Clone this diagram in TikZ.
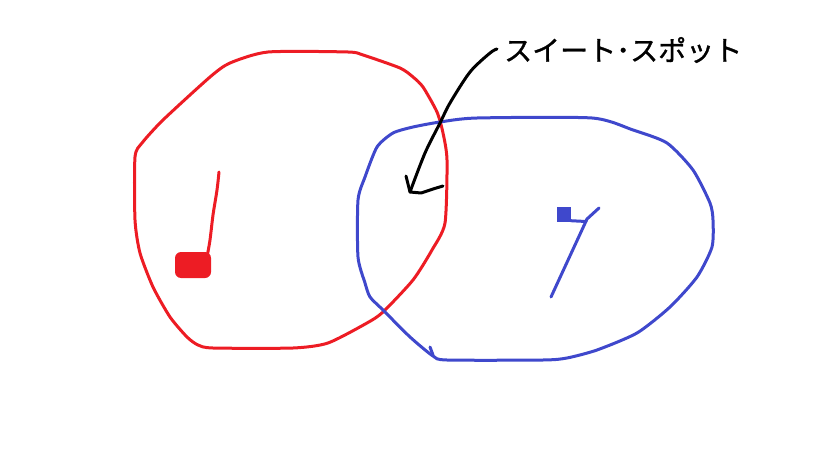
\documentclass[tikz,border=0pt]{standalone}
\usepackage{fontspec}
\newfontfamily\jpfont[FakeBold=1.2]{Noto Sans CJK JP}
\definecolor{pred}{HTML}{ED1C24}
\definecolor{pblue}{HTML}{3F48CC}
\tikzset{
  redline/.style={draw=pred, line width=3pt, line join=round, line cap=round},
  blueline/.style={draw=pblue, line width=3pt, line join=round, line cap=round},
  inkline/.style={draw=black, line width=3pt, line join=round, line cap=round},
}
\begin{document}
\begin{tikzpicture}[x=1pt,y=-1pt]
\useasboundingbox (0,0) rectangle (819,460);
% red circle
\draw[redline] plot[smooth cycle, tension=0.4] coordinates {
 (268,52) (348,52) (363,55) (400,68) (413,77) (423,87) (437,112) (443,133)
 (447,160) (445,223) (432,250) (413,280) (383,312) (367,323) (328,343)
 (293,348) (213,348) (198,345) (187,337) (170,317) (153,287) (140,253)
 (135,220) (135,157) (142,143) (163,120) (210,77) (230,63)};
% blue ellipse
\draw[blueline] plot[smooth cycle, tension=0.4] coordinates {
 (440,122) (477,118) (592,118) (633,130) (667,143) (693,170) (710,203)
 (713,220) (712,247) (697,277) (670,307) (637,333) (597,350) (567,358)
 (543,360) (447,360) (433,356) (410,337) (383,310) (370,297) (365,283)
 (358,257) (358,200) (365,177) (377,147) (393,133) (413,127)};
\draw[blueline] (430,347) -- (433,355);
% red note
\node[fill=pred, rounded corners=6pt, minimum width=36pt, minimum height=26pt, inner sep=0pt] (redblob) at (193,265) {};
\draw[redline] plot[smooth, tension=0.5] coordinates {(219,172) (217,190) (213,215) (210,240) (207,257)};
% blue note
\node[fill=pblue, minimum width=14pt, minimum height=15pt, inner sep=0pt] (bluesq) at (563.5,214.5) {};
\draw[blueline] (bluesq.south east) ++(0,-1.5) -- (586,221.5);
\draw[blueline] (599,208) -- (587,219) -- (551,297);
% label and arrow
\node[anchor=west, inner sep=0pt, font=\jpfont\fontsize{28}{30}\selectfont] (label) at (504,50) {スイート･スポット};
\coordinate (tip) at (410,192);
\draw[inkline] plot[smooth, tension=0.5] coordinates {(497,49) (490,53) (470,72) (450,103) (440,123) (425,153) (tip)};
\draw[inkline] (406,176) -- (tip) -- (421,193) -- (433,189) -- (443,186);
\end{tikzpicture}
\end{document}
